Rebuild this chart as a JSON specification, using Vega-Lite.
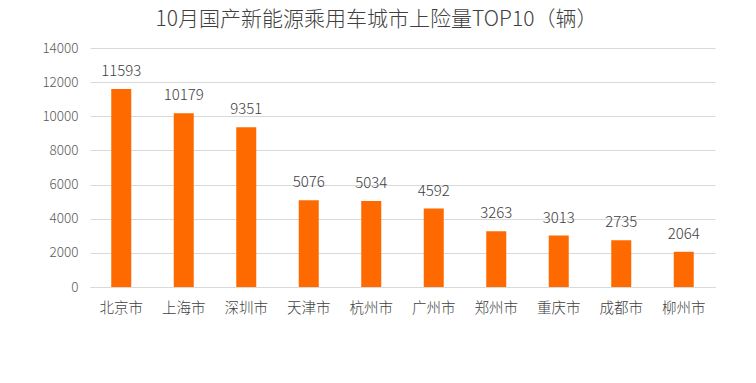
{
  "$schema": "https://vega.github.io/schema/vega-lite/v6.json",
  "width": 625,
  "height": 239,
  "autosize": {"type": "none"},
  "padding": {"left": 90, "top": 48, "right": 41, "bottom": 96},
  "background": "white",
  "title": {
    "text": "10月国产新能源乘用车城市上险量TOP10（辆）",
    "font": "Noto Sans CJK SC",
    "fontSize": 21,
    "fontWeight": 300,
    "color": "#404040",
    "anchor": "middle",
    "dx": -26,
    "offset": 11
  },
  "data": {
    "values": [
      {"city": "北京市", "value": 11593},
      {"city": "上海市", "value": 10179},
      {"city": "深圳市", "value": 9351},
      {"city": "天津市", "value": 5076},
      {"city": "杭州市", "value": 5034},
      {"city": "广州市", "value": 4592},
      {"city": "郑州市", "value": 3263},
      {"city": "重庆市", "value": 3013},
      {"city": "成都市", "value": 2735},
      {"city": "柳州市", "value": 2064}
    ]
  },
  "config": {
    "view": {"stroke": null},
    "font": "Noto Sans CJK SC"
  },
  "encoding": {
    "x": {
      "field": "city",
      "type": "nominal",
      "sort": null,
      "scale": {"paddingInner": 0.68, "paddingOuter": 0.34},
      "axis": {
        "title": null,
        "labelAngle": 0,
        "labelFont": "Noto Sans CJK SC",
        "labelFontSize": 14.5,
        "labelFontWeight": 300,
        "labelColor": "#404040",
        "labelPadding": 14,
        "ticks": false,
        "domainColor": "#d9d9d9"
      }
    },
    "y": {
      "field": "value",
      "type": "quantitative",
      "scale": {"domain": [0, 14000], "nice": false},
      "axis": {
        "title": null,
        "values": [0, 2000, 4000, 6000, 8000, 10000, 12000, 14000],
        "format": "d",
        "labelFont": "Noto Sans CJK SC",
        "labelFontSize": 13.5,
        "labelFontWeight": 300,
        "labelColor": "#595959",
        "labelPadding": 12,
        "ticks": false,
        "domain": false,
        "gridColor": "#d9d9d9"
      }
    }
  },
  "layer": [
    {"mark": {"type": "bar", "color": "#ff6a00"}},
    {
      "mark": {"type": "text", "baseline": "bottom", "dy": -10, "fontSize": 15, "fontWeight": 300, "color": "#404040", "font": "Noto Sans CJK SC"},
      "encoding": {"text": {"field": "value", "type": "quantitative", "format": "d"}}
    }
  ]
}
